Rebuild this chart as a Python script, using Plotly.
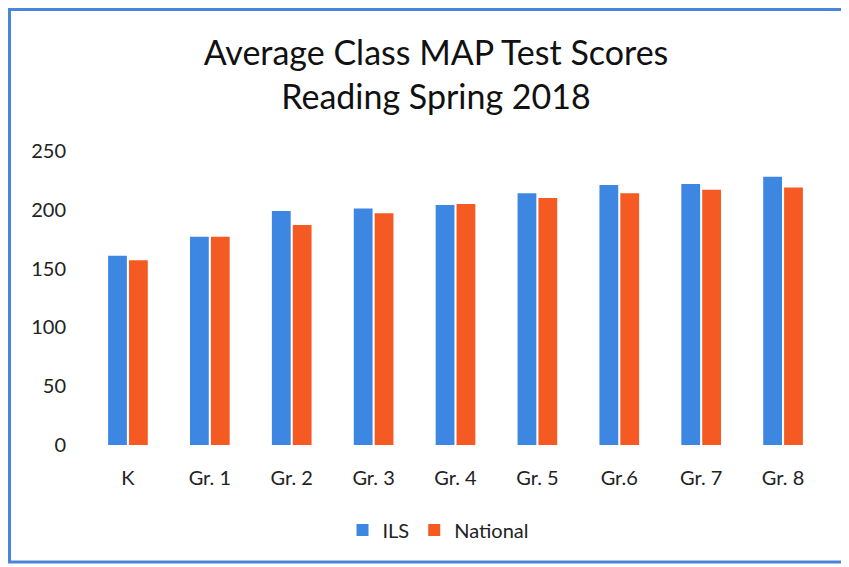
import plotly.graph_objects as go

categories = ["K", "Gr. 1", "Gr. 2", "Gr. 3", "Gr. 4", "Gr. 5", "Gr.6", "Gr. 7", "Gr. 8"]
ils = [161, 177, 199, 201, 204, 214, 221, 222, 228]
national = [157, 177, 187, 197, 205, 210, 214, 217, 219]
y_ticks = [0, 50, 100, 150, 200, 250]

# page body has an 8px margin: figure occupies window pixels 8..849, 8..567
OX, OY = 8, 8
W, H = 849 - OX, 567 - OY
# target window-pixel positions of the plot area
PL, PR, PT, PB = 87, 824, 151, 445
L, R, T, B = PL - OX, (W + OX) - PR, PT - OY, (H + OY) - PB
pw, ph = W - L - R, H - T - B

def px_x(p):
    return (p - PL) / pw

def px_y(p):
    return (PB - p) / ph

FONT = "Lato"

fig = go.Figure()
fig.add_trace(go.Bar(x=categories, y=ils, name="ILS", marker=dict(color="#3d87e2", line=dict(width=0))))
fig.add_trace(go.Bar(x=categories, y=national, name="National", marker=dict(color="#f45a22", line=dict(width=0))))

fig.update_layout(
    width=W, height=H,
    margin=dict(l=L, r=R, t=T, b=B, autoexpand=False),
    paper_bgcolor="white", plot_bgcolor="white",
    barmode="group", bargap=0.49, bargroupgap=0.1,
    font=dict(family=FONT, color="#222222", size=20),
    title=dict(text="Average Class MAP Test Scores<br>Reading Spring 2018",
               x=(436 - OX) / W, xanchor="center",
               y=1 - (65 - OY) / H, yanchor="middle",
               font=dict(family=FONT, size=34, color="#111111")),
    showlegend=True,
    legend=dict(orientation="h", x=px_x(438), xanchor="center", y=px_y(530), yanchor="middle",
                font=dict(size=20), itemwidth=30, bgcolor="rgba(0,0,0,0)"),
    xaxis=dict(showline=False, showgrid=False, zeroline=False, ticks="",
               ticklabelstandoff=19, tickfont=dict(size=20)),
    yaxis=dict(range=[0, 250], tickvals=y_ticks, showline=False, showgrid=False, zeroline=False,
               ticks="", ticklabelstandoff=20, tickfont=dict(size=20)),
    shapes=[dict(type="rect", xref="paper", yref="paper",
                 x0=px_x(9.5), x1=px_x(846), y0=px_y(562), y1=px_y(9.5),
                 line=dict(color="#4a86d8", width=3), fillcolor="rgba(0,0,0,0)")],
)

fig.write_html("out.html")
